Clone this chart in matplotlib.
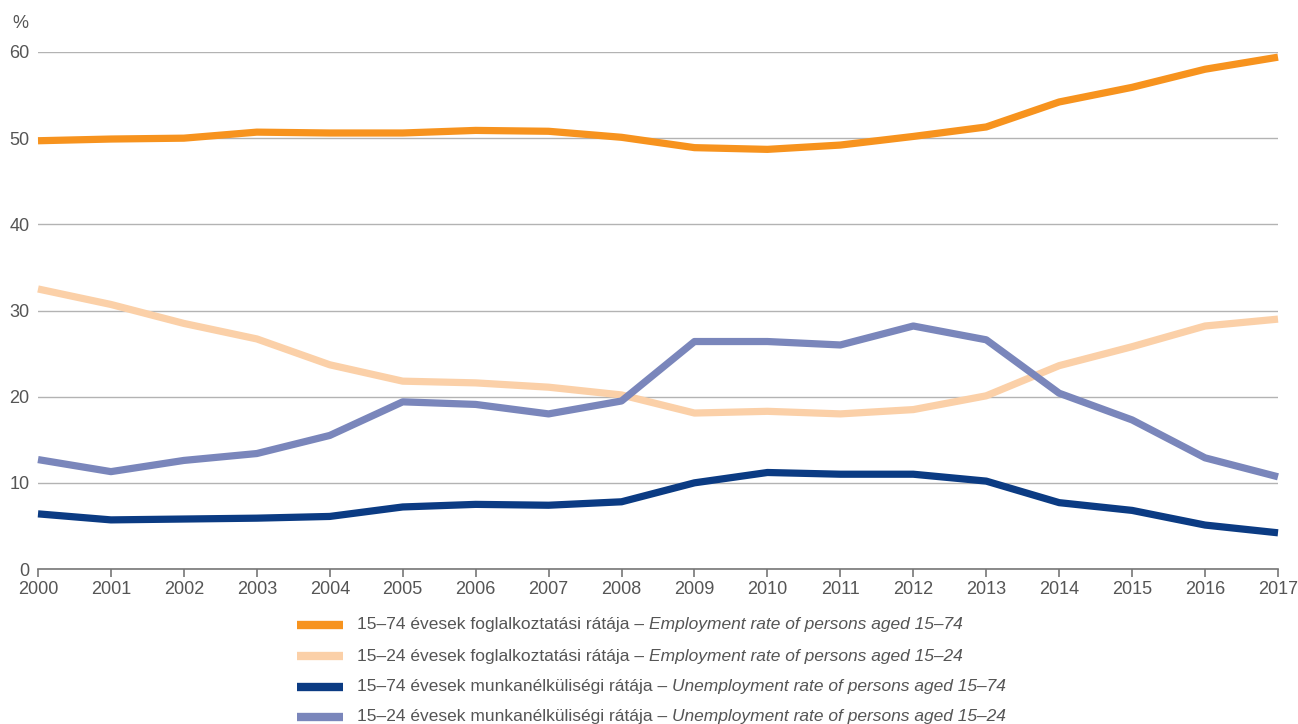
import matplotlib
matplotlib.use("Agg")
import matplotlib.pyplot as plt
from matplotlib.lines import Line2D
from matplotlib import font_manager

years = list(range(2000, 2018))
emp_15_74 = [49.7, 49.9, 50.0, 50.7, 50.6, 50.6, 50.9, 50.8, 50.1, 48.9, 48.7, 49.2, 50.2, 51.3, 54.2, 55.9, 58.0, 59.4]
emp_15_24 = [32.5, 30.7, 28.5, 26.7, 23.7, 21.8, 21.6, 21.1, 20.2, 18.1, 18.3, 18.0, 18.5, 20.1, 23.6, 25.8, 28.2, 29.0]
unemp_15_74 = [6.4, 5.7, 5.8, 5.9, 6.1, 7.2, 7.5, 7.4, 7.8, 10.0, 11.2, 11.0, 11.0, 10.2, 7.7, 6.8, 5.1, 4.2]
unemp_15_24 = [12.7, 11.3, 12.6, 13.4, 15.5, 19.4, 19.1, 18.0, 19.5, 26.4, 26.4, 26.0, 28.2, 26.6, 20.4, 17.3, 12.9, 10.7]

labels_hu = ["15–74 évesek foglalkoztatási rátája – ",
             "15–24 évesek foglalkoztatási rátája – ",
             "15–74 évesek munkanélküliségi rátája – ",
             "15–24 évesek munkanélküliségi rátája – "]
labels_en = ["Employment rate of persons aged 15–74",
             "Employment rate of persons aged 15–24",
             "Unemployment rate of persons aged 15–74",
             "Unemployment rate of persons aged 15–24"]
colors = ["#F7931E", "#FBD0A8", "#0B3B83", "#7A86BB"]
series = [emp_15_74, emp_15_24, unemp_15_74, unemp_15_24]

names = {f.name for f in font_manager.fontManager.ttflist}
fam = "Liberation Sans Narrow" if "Liberation Sans Narrow" in names else "Liberation Sans"
plt.rcParams['font.family'] = [fam, 'DejaVu Sans']
tc = "#555555"

fig = plt.figure(figsize=(12.98, 7.24), dpi=100)
ax = fig.add_axes([38/1298, 1-569/724, 1240/1298, (569-52)/724])

for s, c in zip(series, colors):
    ax.plot(years, s, color=c, lw=5.2, solid_joinstyle='round', solid_capstyle='butt', zorder=3, clip_on=False)

ax.set_xlim(2000, 2017)
ax.set_ylim(0, 60)
ax.set_yticks(range(0, 61, 10))
ax.set_xticks(years)
ax.grid(axis='y', color='#b3b3b3', lw=1)
ax.set_axisbelow(True)
for sp in ['top', 'right', 'left']:
    ax.spines[sp].set_visible(False)
ax.spines['bottom'].set_color('#777777')
ax.spines['bottom'].set_linewidth(1.2)
ax.tick_params(axis='y', length=0, pad=6, labelsize=13, labelcolor=tc)
ax.tick_params(axis='x', length=6, width=1.2, color='#777777', pad=3, labelsize=13, labelcolor=tc)
fig.text(12/1298, 1-23/724, "%", fontsize=13, color=tc, va='center', ha='left')

fig.canvas.draw()
renderer = fig.canvas.get_renderer()
rows_y = [625, 656, 687, 717]
for i, yp in enumerate(rows_y):
    yf = 1 - yp/724
    fig.add_artist(Line2D([297/1298, 343/1298], [yf, yf], color=colors[i], lw=6, solid_capstyle='butt'))
    t = fig.text(357/1298, yf, labels_hu[i], fontsize=12.5, color=tc, va='center', ha='left')
    bb = t.get_window_extent(renderer)
    fig.text(bb.x1/fig.bbox.width, yf, labels_en[i], fontsize=12.5, color=tc, va='center', ha='left', style='italic')

fig.savefig("out.png", dpi=100)
